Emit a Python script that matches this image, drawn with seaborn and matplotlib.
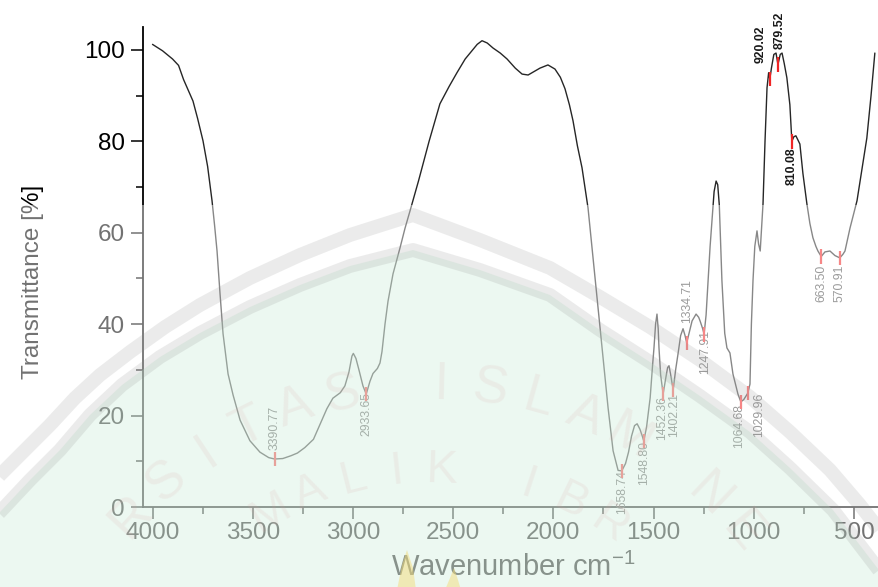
import numpy as np
import matplotlib
matplotlib.use("Agg")
import matplotlib.pyplot as plt
import seaborn as sns
from matplotlib.patches import Polygon, Rectangle
from matplotlib.lines import Line2D
from matplotlib.ticker import MultipleLocator

# FTIR spectrum (wavenumber in cm-1, transmittance in %)
wavenumber = [4000, 3950, 3900, 3870, 3845, 3820, 3798, 3775, 3748, 3725, 3703, 3690, 3678,
              3663, 3648, 3623, 3598, 3563, 3514, 3464, 3420, 3390.77, 3350, 3310, 3277,
              3240, 3197, 3160, 3130, 3100, 3063, 3040, 3020, 3005, 2998, 2985, 2970, 2950,
              2933.65, 2915, 2900, 2878, 2865, 2855, 2840, 2825, 2800, 2765, 2740, 2715,
              2673, 2620, 2566, 2520, 2481, 2440, 2406, 2380, 2356, 2330, 2301, 2265, 2231,
              2190, 2156, 2126, 2095, 2067, 2027, 1992, 1965, 1942, 1920, 1902, 1880, 1857,
              1827, 1802, 1777, 1752, 1727, 1702, 1677, 1658.74, 1640, 1625, 1610, 1595,
              1582, 1568, 1557, 1548.80, 1535, 1517, 1505, 1498, 1490, 1483, 1477, 1473,
              1465, 1452.36, 1440, 1430, 1423, 1415, 1402.21, 1390, 1378, 1365, 1353, 1343,
              1334.71, 1320, 1308, 1288, 1275, 1268, 1255, 1247.91, 1238, 1228, 1218, 1208,
              1198, 1188, 1180, 1172, 1165, 1159, 1145, 1134, 1119, 1104, 1079, 1064.68,
              1050, 1040, 1029.96, 1019, 1012, 1004, 995, 984, 976, 968, 954, 944, 934, 926,
              920.02, 912, 900, 889, 879.52, 868, 859, 848, 835, 820, 810.08, 800, 790, 770,
              755, 735, 720, 705, 690, 680, 663.50, 645, 620, 595, 570.91, 555, 545, 520,
              485, 460, 436, 415, 396]
transmittance = [101.2, 99.8, 98.0, 96.6, 93.5, 91.0, 88.8, 85.0, 80.1, 74.5, 67.0, 61.5, 56.0,
                 46.6, 37.9, 29.1, 24.5, 19.0, 14.5, 12.0, 10.8, 10.5, 10.6, 11.2, 11.8,
                 13.0, 14.8, 18.5, 21.5, 23.8, 25.0, 26.5, 29.5, 33.0, 33.6, 32.5, 30.0, 26.5,
                 24.7, 27.5, 29.2, 30.3, 31.5, 34.0, 40.0, 45.0, 51.0, 56.7, 61.0, 64.8,
                 71.3, 80.0, 88.2, 92.0, 95.0, 98.0, 99.8, 101.2, 102.0, 101.5, 100.4, 99.3, 98.0,
                 96.0, 94.7, 94.5, 95.3, 96.0, 96.7, 95.8, 94.0, 91.5, 88.0, 84.5, 79.0, 74.2,
                 65.4, 54.5, 43.5, 32.6, 21.7, 12.3, 8.0, 7.9, 9.5, 12.0, 15.5, 17.8,
                 18.2, 17.0, 15.6, 14.4, 17.5, 23.9, 31.0, 34.8, 40.0, 42.2, 39.0, 34.8,
                 29.0, 24.7, 28.0, 30.5, 30.9, 29.0, 25.6, 30.0, 33.5, 37.5, 39.0, 37.5,
                 35.9, 38.5, 40.7, 42.2, 41.5, 40.7, 39.0, 37.8, 42.0, 49.5, 57.0, 63.0,
                 69.0, 71.3, 70.5, 66.0, 57.0, 49.5, 38.0, 34.8, 33.7, 29.1, 24.7, 23.0,
                 23.5, 24.2, 24.9, 26.9, 40.0, 49.5, 57.0, 60.4, 57.5, 56.0, 66.3, 80.0, 91.7, 95.0,
                 93.6, 96.0, 99.0, 99.3, 96.8, 99.0, 99.3, 97.0, 93.9, 88.0, 80.0, 81.0, 81.2, 79.4,
                 73.0, 66.3, 62.0, 58.9, 57.0, 56.0, 54.8, 55.8, 56.0, 55.0, 54.5, 55.3, 56.0, 61.0,
                 67.0, 74.0, 80.7, 90.0, 99.3]

# marked peaks
peak_wn = [3390.77, 2933.65, 1658.74, 1548.80, 1452.36, 1402.21, 1334.71, 1247.91,
           1064.68, 1029.96, 920.02, 879.52, 810.08, 663.50, 570.91]
peak_t = [10.5, 24.7, 7.9, 14.4, 24.7, 25.6, 35.9, 37.8,
          23.0, 24.9, 93.6, 96.8, 80.0, 54.8, 54.5]
peak_labels = ["3390.77", "2933.65", "1658.74", "1548.80", "1452.36", "1402.21", "1334.71",
               "1247.91", "1064.68", "1029.96", "920.02", "879.52", "810.08", "663.50", "570.91"]

# label placement (pixel offsets from the peak point, and side)
label_dx = [0, 0, 0, 0, -1, 1, 0, 1, -2, 11, -9, 2, 0, 0, 0]
label_dy = [9, 2, 1, 0, -2, -3, 20, 4, -2, 0, 16, 15, -6, -8, -7]
label_above = [True, False, False, False, False, False, True, False,
               False, False, True, True, False, False, False]
label_dark = [False] * 10 + [True, True, True, False, False]

W, H = 879, 587
sns.set_style("ticks")
plt.rcParams["font.family"] = ["Liberation Sans", "DejaVu Sans"]
plt.rcParams["mathtext.fontset"] = "custom"
plt.rcParams["mathtext.rm"] = "Liberation Sans"

fig = plt.figure(figsize=(W / 100, H / 100), dpi=100)
fig.patch.set_facecolor("white")
ax = fig.add_axes([143 / W, (H - 507) / H, (W - 143) / W, 480 / H])
ax.set_facecolor("none")

sns.lineplot(x=wavenumber, y=transmittance, sort=False, estimator=None,
             color="#262626", linewidth=1.0, ax=ax)

ax.vlines(peak_wn, np.array(peak_t) - 1.6, np.array(peak_t) + 1.6,
          color="#f02525", linewidth=1.6, zorder=4)

for i, lab in enumerate(peak_labels):
    ax.annotate(lab, xy=(peak_wn[i], peak_t[i]),
                xytext=(label_dx[i], label_dy[i]), textcoords="offset pixels",
                rotation=90, ha="center",
                va="bottom" if label_above[i] else "top",
                fontsize=8.8,
                color="#1a1a1a" if label_dark[i] else "#4a4a4a",
                fontweight="bold" if label_dark[i] else "normal")

ax.set_xlim(4047.4, 375.3)
ax.set_ylim(0, 105)
ax.xaxis.set_major_locator(MultipleLocator(500))
ax.xaxis.set_minor_locator(MultipleLocator(250))
ax.yaxis.set_major_locator(MultipleLocator(20))
ax.yaxis.set_minor_locator(MultipleLocator(10))
ax.tick_params(which="major", direction="out", length=8.4, width=1.1, labelsize=17.5,
               color="black", labelcolor="black")
ax.tick_params(which="minor", direction="out", length=4.8, width=1.1, color="black")
ax.tick_params(axis="x", which="major", pad=2.5)
ax.tick_params(axis="y", which="major", pad=4.8)
for side in ["top", "right"]:
    ax.spines[side].set_visible(False)
for side in ["left", "bottom"]:
    ax.spines[side].set_color("black")
    ax.spines[side].set_linewidth(1.3)

ax.set_ylabel("Transmittance [%]", fontsize=17.5, color="black")
ax.set_xlabel("Wavenumber cm$^{\\mathregular{-1}}$", fontsize=21, color="black")
ax.yaxis.set_label_coords(-0.1345, 0.469)
ax.xaxis.set_label_coords(0.5027, -0.096)


# ---- faint watermark over the lower part (image pixel coords, y down) ----
def to_fig(pts):
    return [(x / W, 1 - y / H) for x, y in pts]


fig.add_artist(Rectangle((0, 0), 1, (H - 205) / H, transform=fig.transFigure,
                         facecolor="white", edgecolor="none", alpha=0.45, zorder=5))

outer = [(-10, 486), (0, 475), (25, 450), (50, 425), (75, 398), (100, 375), (130, 352),
         (165, 327), (200, 305), (250, 278), (300, 255), (350, 235), (413, 215), (480, 240),
         (550, 268), (600, 297), (650, 327), (700, 360), (750, 397), (790, 432), (830, 470),
         (860, 505), (895, 550)]
inner = [(-10, 522), (0, 512), (30, 480), (60, 450), (90, 415), (122, 385), (160, 357),
         (200, 333), (250, 307), (300, 285), (350, 266), (413, 250), (480, 270), (550, 295),
         (600, 330), (650, 362), (700, 396), (750, 432), (790, 468), (833, 510), (885, 578)]

fig.add_artist(Polygon(to_fig(inner + [(885, 600), (-10, 600)]), closed=True,
                       transform=fig.transFigure, facecolor=(190 / 255, 230 / 255, 205 / 255),
                       edgecolor="none", alpha=0.28, zorder=6))
for band in [outer, inner]:
    xs, ys = zip(*to_fig(band))
    fig.add_artist(Line2D(xs, ys, transform=fig.transFigure, color="#8c8c8c",
                          linewidth=10, alpha=0.17, solid_capstyle="butt",
                          solid_joinstyle="round", zorder=7))


def arc_text(text, cx, cy, r, theta_mid, step, size):
    n = len(text)
    for k, ch in enumerate(text):
        th = np.radians(theta_mid + (n / 2 - 0.5 - k) * step)
        x = cx + r * np.cos(th)
        y = cy - r * np.sin(th)
        if ch == " " or x < 40 or x > W - 40 or y > H - 45:
            continue
        fig.text(x / W, 1 - y / H, ch, rotation=np.degrees(th) - 90, fontsize=size,
                 ha="center", va="center", rotation_mode="anchor", color="#d9a0a0",
                 alpha=0.13, zorder=8)


arc_text("UNIVERSITAS ISLAM NEGERI", 430, 790, 405, 92, 7.0, 38)
arc_text("MAULANA MALIK IBRAHIM", 430, 790, 320, 104, 8.0, 34)

for flame in [[(397, 590), (402, 565), (407, 550), (413, 568), (416, 590)],
              [(445, 590), (450, 578), (454, 568), (458, 580), (461, 590)]]:
    fig.add_artist(Polygon(to_fig(flame), closed=True, transform=fig.transFigure,
                           facecolor="#f3dc7a", edgecolor="none", alpha=0.5, zorder=6))

fig.savefig("out.png", dpi=100)
